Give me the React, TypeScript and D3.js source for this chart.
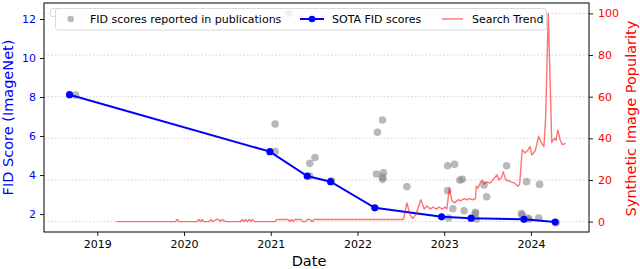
import React, { useEffect, useRef } from 'react';
import * as d3 from 'd3';

// SOTA FID scores (decimal year, FID)
const sotaYears = [2018.68, 2020.99, 2021.42, 2021.69, 2022.2, 2022.97, 2023.31, 2023.92, 2024.28];
const sotaFid = [8.12, 5.2, 3.95, 3.66, 2.32, 1.86, 1.79, 1.73, 1.59];

// FID scores reported in publications
const pubYears = [
  2018.75, 2021.05, 2021.05, 2021.21, 2021.45, 2021.51, 2021.45, 2021.7,
  2022.23, 2022.29, 2022.22, 2022.3, 2022.29, 2022.29, 2022.57,
  2023.05, 2023.04, 2023.12, 2023.04, 2023.1, 2023.18, 2023.21, 2023.23,
  2023.36, 2023.36, 2023.37, 2023.46, 2023.49, 2023.72, 2023.89, 2023.9,
  2023.95, 2023.96, 2023.98, 2024.09, 2024.1, 2024.29,
];
const pubFid = [
  8.1, 6.62, 5.2, 12.3, 4.6, 4.9, 3.95, 3.7,
  6.19, 6.82, 4.05, 4.12, 3.88, 3.78, 3.4,
  1.8, 4.48, 4.55, 3.2, 2.27, 3.74, 3.78, 2.17,
  2.09, 2.03, 1.75, 3.49, 2.89, 4.48, 2.03, 1.95,
  3.66, 1.8, 1.75, 1.8, 3.52, 1.55,
];

// Search trend (decimal year, popularity 0-100)
const trendYears = [
  2019.22, 2019.9, 2019.92, 2019.94, 2020.15, 2020.17, 2020.19, 2020.21, 2020.23, 2020.29,
  2020.31, 2020.33, 2020.37, 2020.4, 2020.42, 2020.44, 2020.48, 2020.65, 2020.67, 2020.69,
  2020.71, 2020.73, 2020.75, 2020.77, 2020.79, 2020.81, 2021.05, 2021.07, 2021.2, 2021.22,
  2021.24, 2021.26, 2021.28, 2021.35, 2021.37, 2021.4, 2021.42, 2021.45, 2021.48, 2021.5,
  2022.53, 2022.57, 2022.61, 2022.64, 2022.68, 2022.73, 2022.77, 2022.8, 2022.84, 2022.87,
  2022.91, 2022.94, 2022.98, 2023.01, 2023.03, 2023.06, 2023.09, 2023.12, 2023.16, 2023.19,
  2023.23, 2023.26, 2023.3, 2023.33, 2023.36, 2023.37, 2023.39, 2023.42, 2023.44, 2023.46,
  2023.49, 2023.53, 2023.56, 2023.61, 2023.63, 2023.66, 2023.68, 2023.71, 2023.75, 2023.78,
  2023.81, 2023.85, 2023.87, 2023.9, 2023.93, 2023.96, 2023.99, 2024.01, 2024.05, 2024.09,
  2024.12, 2024.15, 2024.17, 2024.2, 2024.23, 2024.24, 2024.27, 2024.29, 2024.31, 2024.34,
  2024.36, 2024.4,
];
const trendValues = [
  0, 0, 1, 0, 0, 1, 0, 1, 0, 0,
  1, 0, 1, 1, 0, 1, 0, 0, 1, 0,
  1, 0, 1, 0, 1, 0, 0, 1, 1, 0,
  1, 0, 1, 1, 0, 0, 1, 1, 0, 1,
  1, 9, 3, 1.5, 4, 10.5, 6, 7.5, 6, 7,
  6, 7, 6, 7, 6, 16, 10, 9, 10.5, 10,
  11, 10.5, 11, 10.5, 11, 17, 16, 19, 20, 18,
  19, 18.5, 20, 22.5, 20, 21, 24, 20, 19.5, 19,
  18.5, 17, 18, 34.5, 33, 34, 36, 32, 34, 41,
  38, 36, 50, 100, 55, 38, 40, 39, 44, 39,
  37, 37.5,
];

const fidTicks = [2, 4, 6, 8, 10, 12];
const trendTicks = [0, 20, 40, 60, 80, 100];
const yearTicks = [2019, 2020, 2021, 2022, 2023, 2024];

const W = 640;
const H = 269;
const left = 44;
const right = 589;
const top = 3;
const bottom = 232;
const FONT = 'DejaVu Sans, sans-serif';

export default function App() {
  const ref = useRef<SVGSVGElement>(null);

  useEffect(() => {
    const svg = d3.select(ref.current);
    svg.selectAll('*').remove();

    const x = d3.scaleLinear().domain([2018.385, 2024.67]).range([left, right]);
    const yL = d3.scaleLinear().domain([1.08, 12.82]).range([bottom, top]);
    const yR = d3.scaleLinear().domain([-5, 105]).range([bottom, top]);

    // grid from the right axis
    svg.append('g')
      .selectAll('line')
      .data(trendTicks)
      .enter()
      .append('line')
      .attr('x1', left)
      .attr('x2', right)
      .attr('y1', (d) => yR(d))
      .attr('y2', (d) => yR(d))
      .attr('stroke', '#c8c8c8')
      .attr('stroke-width', 0.8)
      .attr('stroke-dasharray', '1.5,2');

    // publication scatter
    svg.append('g')
      .selectAll('circle')
      .data(pubYears)
      .enter()
      .append('circle')
      .attr('cx', (d) => x(d))
      .attr('cy', (d, i) => yL(pubFid[i]))
      .attr('r', 3.8)
      .attr('fill', 'grey')
      .attr('fill-opacity', 0.55);

    // SOTA line
    const sota = sotaYears.map((d, i) => [d, sotaFid[i]] as [number, number]);
    svg.append('path')
      .datum(sota)
      .attr('fill', 'none')
      .attr('stroke', 'blue')
      .attr('stroke-width', 2)
      .attr('d', d3.line<[number, number]>().x((d) => x(d[0])).y((d) => yL(d[1])));
    svg.append('g')
      .selectAll('circle')
      .data(sota)
      .enter()
      .append('circle')
      .attr('cx', (d) => x(d[0]))
      .attr('cy', (d) => yL(d[1]))
      .attr('r', 3.6)
      .attr('fill', 'blue');

    // search trend
    const trend = trendYears.map((d, i) => [d, trendValues[i]] as [number, number]);
    svg.append('path')
      .datum(trend)
      .attr('fill', 'none')
      .attr('stroke', 'red')
      .attr('stroke-opacity', 0.55)
      .attr('stroke-width', 1.4)
      .attr('stroke-linejoin', 'round')
      .attr('d', d3.line<[number, number]>().x((d) => x(d[0])).y((d) => yR(d[1])));

    // axes
    const xAxis = svg.append('g')
      .attr('transform', `translate(0,${bottom})`)
      .call(d3.axisBottom(x).tickValues(yearTicks).tickFormat(d3.format('d')).tickSizeOuter(0).tickSize(4).tickPadding(4));
    xAxis.selectAll('text').attr('font-size', 11).attr('fill', '#000');

    const lAxis = svg.append('g')
      .attr('transform', `translate(${left},0)`)
      .call(d3.axisLeft(yL).tickValues(fidTicks).tickSizeOuter(0).tickSize(4).tickPadding(4));
    lAxis.selectAll('text').attr('font-size', 11).attr('fill', 'blue');

    const rAxis = svg.append('g')
      .attr('transform', `translate(${right},0)`)
      .call(d3.axisRight(yR).tickValues(trendTicks).tickSizeOuter(0).tickSize(4).tickPadding(5));
    rAxis.selectAll('text').attr('font-size', 11).attr('fill', 'red');

    svg.selectAll('.domain').remove();
    svg.selectAll('.tick line').attr('stroke', '#000').attr('stroke-width', 0.9);
    svg.selectAll('.tick text').attr('font-family', FONT);

    // frame
    svg.append('rect')
      .attr('x', left)
      .attr('y', top)
      .attr('width', right - left)
      .attr('height', bottom - top)
      .attr('fill', 'none')
      .attr('stroke', '#000')
      .attr('stroke-width', 1);

    // axis labels
    svg.append('text')
      .attr('transform', `translate(12.5,${(top + bottom) / 2}) rotate(-90)`)
      .attr('text-anchor', 'middle')
      .attr('font-family', FONT)
      .attr('font-size', 14.5)
      .attr('fill', 'blue')
      .text('FID Score (ImageNet)');
    svg.append('text')
      .attr('transform', `translate(635.5,${(top + bottom) / 2 + 1}) rotate(-90)`)
      .attr('text-anchor', 'middle')
      .attr('font-family', FONT)
      .attr('font-size', 14.5)
      .attr('fill', 'red')
      .text('Synthetic Image Popularity');
    svg.append('text')
      .attr('x', 309)
      .attr('y', 265.5)
      .attr('text-anchor', 'middle')
      .attr('font-family', FONT)
      .attr('font-size', 14.5)
      .attr('fill', '#000')
      .text('Date');

    // empty legend box left by the second axes
    svg.append('rect')
      .attr('x', 50.5).attr('y', 8.5).attr('width', 8).attr('height', 8).attr('rx', 1.5)
      .attr('fill', '#fff').attr('stroke', '#cfcfcf').attr('stroke-width', 0.8);

    // legend
    const lg = svg.append('g');
    lg.append('rect')
      .attr('x', 55.5).attr('y', 8.5).attr('width', 491).attr('height', 21.5).attr('rx', 2.5)
      .attr('fill', '#fff').attr('fill-opacity', 0.8)
      .attr('stroke', '#d0d0d0').attr('stroke-width', 0.8);
    const ly = 19;
    lg.append('circle').attr('cx', 70.7).attr('cy', ly).attr('r', 3.3).attr('fill', 'grey').attr('fill-opacity', 0.55);
    lg.append('line').attr('x1', 300).attr('x2', 324).attr('y1', ly).attr('y2', ly).attr('stroke', 'blue').attr('stroke-width', 2);
    lg.append('circle').attr('cx', 312).attr('cy', ly).attr('r', 3.3).attr('fill', 'blue');
    lg.append('line').attr('x1', 442).attr('x2', 463).attr('y1', ly).attr('y2', ly).attr('stroke', 'red').attr('stroke-opacity', 0.55).attr('stroke-width', 1.4);
    const labels: [number, string][] = [[90, 'FID scores reported in publications'], [332, 'SOTA FID scores'], [472, 'Search Trend']];
    lg.selectAll('text.lab')
      .data(labels)
      .enter()
      .append('text')
      .attr('x', (d) => d[0])
      .attr('y', ly + 4)
      .attr('font-family', FONT)
      .attr('font-size', 11)
      .attr('fill', '#000')
      .text((d) => d[1]);
  }, []);

  return (
    <svg
      ref={ref}
      width={W}
      height={H}
      style={{ position: 'absolute', left: 0, top: 0, background: '#fff' }}
    />
  );
}
